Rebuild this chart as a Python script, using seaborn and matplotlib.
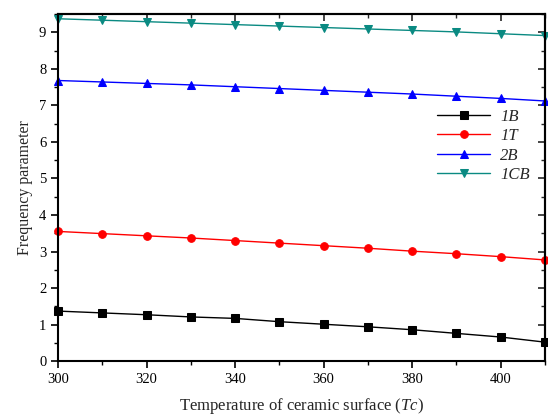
import numpy as np
import pandas as pd
import matplotlib
matplotlib.use("Agg")
import matplotlib.pyplot as plt
import seaborn as sns
from matplotlib.ticker import MultipleLocator

temperature = [300, 310, 320, 330, 340, 350, 360, 370, 380, 390, 400, 410]
s_1B = [1.37, 1.32, 1.27, 1.21, 1.17, 1.08, 1.01, 0.94, 0.86, 0.76, 0.66, 0.52]
s_1T = [3.55, 3.49, 3.43, 3.37, 3.30, 3.23, 3.16, 3.09, 3.01, 2.94, 2.86, 2.77]
s_2B = [7.68, 7.64, 7.60, 7.56, 7.51, 7.46, 7.41, 7.36, 7.31, 7.25, 7.19, 7.12]
s_1CB = [9.37, 9.33, 9.29, 9.25, 9.21, 9.17, 9.13, 9.09, 9.05, 9.01, 8.96, 8.91]
labels = ["1B", "1T", "2B", "1CB"]

sns.set_theme(style="white")
plt.rcParams['font.family'] = ['Liberation Serif', 'DejaVu Serif']
plt.rcParams['mathtext.fontset'] = 'custom'
plt.rcParams['mathtext.it'] = 'Liberation Serif:italic'
plt.rcParams['mathtext.rm'] = 'Liberation Serif'

fig = plt.figure(figsize=(5.48, 4.18), dpi=100)
ax = fig.add_axes([0.106, 0.136, 0.8885, 0.8305])

styles = [("black", "s"), ("red", "o"), ("blue", "^"), ("#0a8a82", "v")]
for lab, vals, (c, m) in zip(labels, [s_1B, s_1T, s_2B, s_1CB], styles):
    df = pd.DataFrame({"T": temperature, "f": vals})
    sns.lineplot(data=df, x="T", y="f", ax=ax, color=c, marker=m, markersize=5.5,
                 markeredgecolor=c, linewidth=1.0, label=lab, clip_on=False)

ax.set_xlim(300, 410)
ax.set_ylim(0, 9.5)
ax.xaxis.set_major_locator(MultipleLocator(20))
ax.xaxis.set_minor_locator(MultipleLocator(10))
ax.yaxis.set_major_locator(MultipleLocator(1))
ax.yaxis.set_minor_locator(MultipleLocator(0.5))
ax.tick_params(which="both", direction="out", bottom=True, left=True, top=False, right=False,
               labelsize=10.5, colors="black")
ax.tick_params(which="major", length=5, width=1.2)
ax.tick_params(which="minor", length=3, width=1.0)
for sp in ax.spines.values():
    sp.set_color("black")
    sp.set_linewidth(1.5)

sec = ax.secondary_yaxis("right")
sec.yaxis.set_major_locator(MultipleLocator(1))
sec.yaxis.set_minor_locator(MultipleLocator(0.5))
sec.tick_params(which="both", direction="in", labelright=False)
sec.tick_params(which="major", length=5, width=1.2)
sec.tick_params(which="minor", length=3)
sec.spines["right"].set_linewidth(1.5)
secx = ax.secondary_xaxis("top")
secx.xaxis.set_major_locator(MultipleLocator(20))
secx.xaxis.set_minor_locator(MultipleLocator(10))
secx.tick_params(which="both", direction="in", labeltop=False)
secx.tick_params(which="major", length=5, width=1.2)
secx.tick_params(which="minor", length=3)
secx.spines["top"].set_linewidth(1.5)

ax.set_ylabel("Frequency parameter", fontsize=11.5)
ax.set_xlabel("Temperature of ceramic surface ($\\mathit{Tc}$)", fontsize=12, labelpad=7)

leg = ax.legend(loc="upper right", bbox_to_anchor=(1.0, 0.77), frameon=False,
                prop={"style": "italic", "size": 12}, handlelength=3.2, labelspacing=0.2,
                handletextpad=0.6)

fig.savefig("out.png", dpi=100)
